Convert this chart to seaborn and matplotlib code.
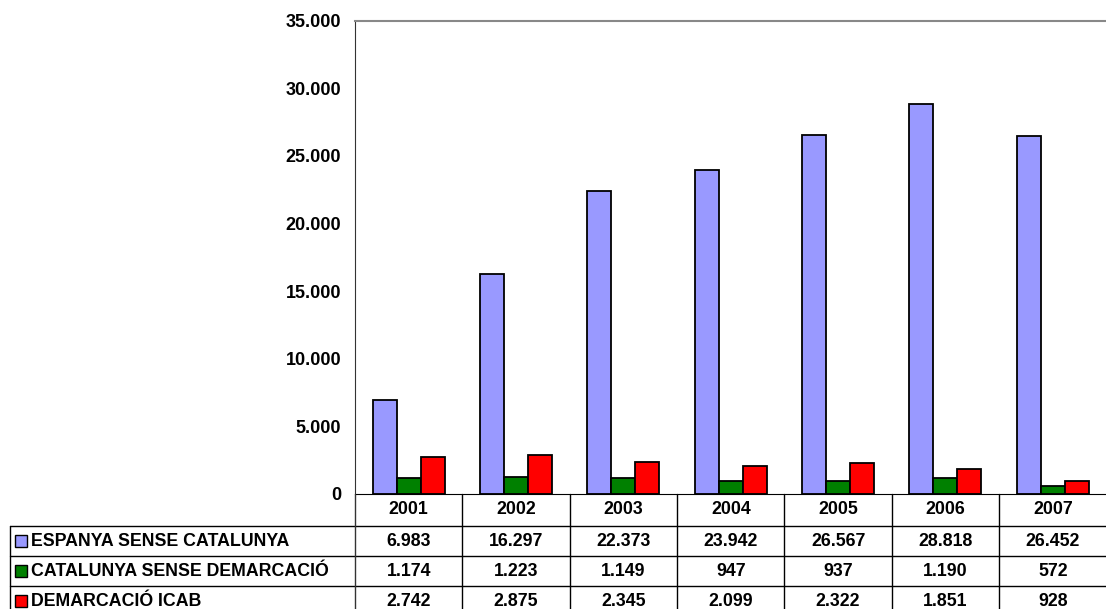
import pandas as pd
import matplotlib.pyplot as plt
import matplotlib.transforms as mtransforms
from matplotlib.patches import Rectangle
from matplotlib.lines import Line2D
import seaborn as sns

# Data
years = ['2001', '2002', '2003', '2004', '2005', '2006', '2007']
series_names = ['ESPANYA SENSE CATALUNYA', 'CATALUNYA SENSE DEMARCACIÓ', 'DEMARCACIÓ ICAB']
espanya = [6983, 16297, 22373, 23942, 26567, 28818, 26452]
catalunya = [1174, 1223, 1149, 947, 937, 1190, 572]
icab = [2742, 2875, 2345, 2099, 2322, 1851, 928]
colors = ['#9999FF', '#008000', '#FF0000']

# Long format for seaborn
df = pd.DataFrame({
    'year': years * 3,
    'serie': [series_names[0]] * 7 + [series_names[1]] * 7 + [series_names[2]] * 7,
    'value': espanya + catalunya + icab,
})

def fmt(v):
    return f'{v:,}'.replace(',', '.')

sns.set_style('white')
plt.rcParams['font.family'] = ['Liberation Sans', 'DejaVu Sans']
plt.rcParams['font.weight'] = 'bold'
plt.rcParams['text.color'] = 'black'
plt.rcParams['ytick.labelcolor'] = 'black'

W, H = 1106, 609
fig = plt.figure(figsize=(W / 100, H / 100), dpi=100)
ax = fig.add_axes([355 / W, 1 - 494 / H, 751.5 / W, 473.3 / H])

sns.barplot(data=df, x='year', y='value', hue='serie', palette=colors, saturation=1,
            width=0.67, edgecolor='black', linewidth=1.3, ax=ax, legend=False)

ax.set_xlim(-0.5, 6.5)
ax.set_ylim(0, 35000)
yt = list(range(0, 35001, 5000))
ax.set_yticks(yt)
ax.set_yticklabels([fmt(v) for v in yt], fontsize=13, fontweight='bold', color='black')
ax.tick_params(axis='y', direction='out', length=6, width=1, color='#333333', pad=4)
ax.set_xticks([])
ax.set_xlabel('')
ax.set_ylabel('')
ax.spines['right'].set_visible(False)
ax.spines['top'].set_color('#888888')
ax.spines['top'].set_linewidth(1.5)
ax.spines['left'].set_color('#333333')
ax.spines['bottom'].set_color('black')

# Data table under the chart
def fy(py):
    return 1 - py / H

def fx(px):
    return px / W

trans = mtransforms.blended_transform_factory(ax.transData, fig.transFigure)
row_tops = [494, 526, 556, 586]
row_h = 30
line_kw = dict(color='black', linewidth=1, clip_on=False)

# horizontal lines
for yl in row_tops[1:]:
    fig.add_artist(Line2D([fx(10), 1.0], [fy(yl), fy(yl)], transform=fig.transFigure, **line_kw))
# vertical lines
fig.add_artist(Line2D([fx(10), fx(10)], [fy(526), 0], transform=fig.transFigure, **line_kw))
fig.add_artist(Line2D([fx(355), fx(355)], [fy(494), 0], transform=fig.transFigure,
                      color='#333333', linewidth=1))
for i in range(1, len(years)):
    fig.add_artist(Line2D([i - 0.5, i - 0.5], [fy(494), 0], transform=trans, **line_kw))

# header
for i, y in enumerate(years):
    fig.text(i, fy(510), y, transform=trans, ha='center', va='center',
             fontsize=12.75, fontweight='bold')

# rows
rows = [espanya, catalunya, icab]
for r, (name, vals, c) in enumerate(zip(series_names, rows, colors)):
    cy = row_tops[r + 1] + row_h / 2
    fig.add_artist(Rectangle((fx(15), fy(cy + 6)), 12 / W, 12 / H, transform=fig.transFigure,
                             facecolor=c, edgecolor='black', linewidth=1))
    fig.text(fx(31), fy(cy), name, ha='left', va='center', fontsize=12.75, fontweight='bold')
    for i, v in enumerate(vals):
        fig.text(i, fy(cy), fmt(v), transform=trans, ha='center', va='center',
                 fontsize=12.75, fontweight='bold')

fig.savefig('out.png', dpi=100)
